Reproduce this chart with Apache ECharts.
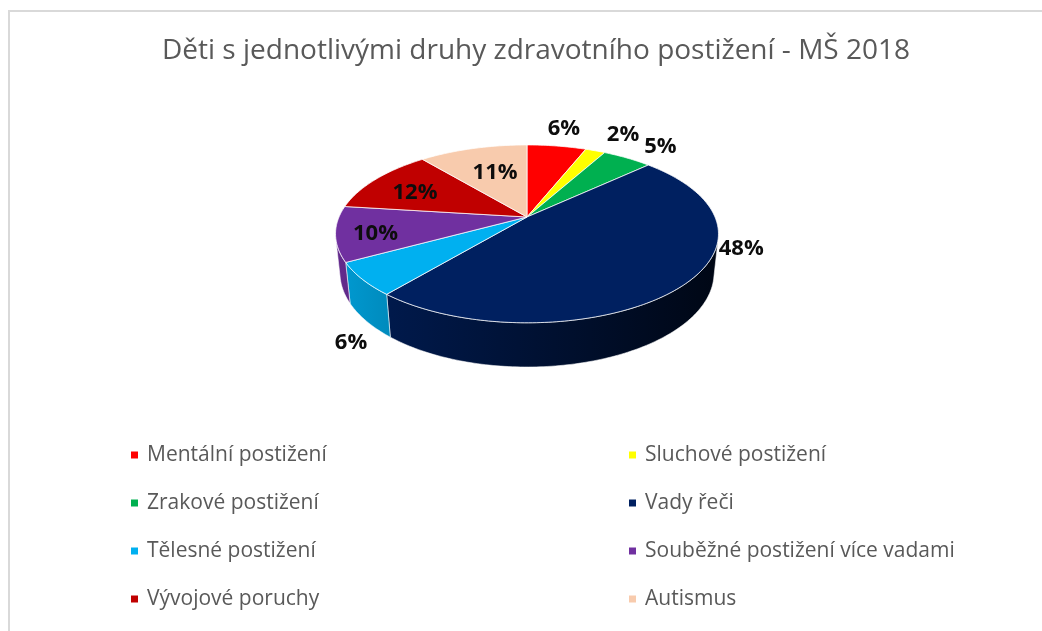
<!DOCTYPE html>
<html>
<head>
<meta charset="utf-8">
<title>Děti s jednotlivými druhy zdravotního postižení - MŠ 2018</title>
<script src="https://cdn.jsdelivr.net/npm/echarts@6/dist/echarts.min.js"></script>
<style>
  html, body { margin: 0; padding: 0; background: #fff; }
  #chart { width: 1042px; height: 631px; }
</style>
</head>
<body>
<div id="chart"></div>
<script>
const titleText = 'Děti s jednotlivými druhy zdravotního postižení - MŠ 2018'
const categories = [
  'Mentální postižení',
  'Sluchové postižení',
  'Zrakové postižení',
  'Vady řeči',
  'Tělesné postižení',
  'Souběžné postižení více vadami',
  'Vývojové poruchy',
  'Autismus'
]
const shares = [6, 2, 5, 48, 6, 10, 12, 11] // %
const colors = ['#FF0000', '#FFFF00', '#00B050', '#002060', '#00B0F0', '#7030A0', '#C00000', '#F8CBAD']

// 3D pie projection (camera tilted ~27deg, with perspective)
const CX = 527
const CY = 217
const F = 882.6
const R = 0.213
const H = 0.05
const sinE = 0.456
const cosE = 0.89
const visFrom = Math.acos(-R / cosE) * 180 / Math.PI
const visTo = 360 - visFrom

// label placement: [radius factor, angle shift, depth fraction]
const labelLayout = [
  [1.3, 0, 0], [1.33, 2.8, 0], [1.28, 3.2, 0], [1.12, -25, 0],
  [1.15, -5.4, 1], [0.8, -3.2, 0], [0.7, -3, 0], [0.6, 1.5, 0]
]

function proj(deg, rho, zf) {
  const t = deg * Math.PI / 180
  const X = rho * R * Math.sin(t)
  const Y = -rho * R * Math.cos(t)
  const Z = -zf * H
  const yc = Z * cosE - Y * sinE
  const zc = 1 - Y * cosE - Z * sinE
  return [CX + F * X / zc, CY - F * yc / zc]
}

function arc(a, b, zf) {
  const pts = []
  const n = Math.max(2, Math.ceil(Math.abs(b - a)))
  for (let k = 0; k <= n; k++) {
    pts.push(proj(a + (b - a) * k / n, 1, zf))
  }
  return pts
}

function shade(hex, f) {
  const c = parseInt(hex.slice(1), 16)
  const r = Math.round(((c >> 16) & 255) * f)
  const g = Math.round(((c >> 8) & 255) * f)
  const b = Math.round((c & 255) * f)
  return 'rgb(' + r + ',' + g + ',' + b + ')'
}

function renderSlice(params, api) {
  const idx = params.seriesIndex
  const a0 = api.value(0) * 3.6
  const a1 = api.value(1) * 3.6
  const pct = api.value(2)
  const color = colors[idx]
  const children = []

  // outer wall (only the part facing the viewer)
  const s = Math.max(a0, visFrom)
  const e = Math.min(a1, visTo)
  if (s < e) {
    const pts = arc(s, e, 0).concat(arc(e, s, 1))
    children.push({
      type: 'polygon',
      z2: 1,
      shape: { points: pts },
      style: {
        fill: new echarts.graphic.LinearGradient(336, 0, 717, 0, [
          { offset: 0, color: shade(color, 0.88) },
          { offset: 1, color: shade(color, 0.22) }
        ], true),
        stroke: 'rgba(255,255,255,0.55)',
        lineWidth: 1
      }
    })
  }

  // top face
  const top = [proj(0, 0, 0)].concat(arc(a0, a1, 0))
  children.push({
    type: 'polygon',
    z2: 5,
    shape: { points: top },
    style: { fill: color, stroke: 'rgba(255,255,255,0.75)', lineWidth: 1 }
  })

  // data label
  const lay = labelLayout[idx]
  const p = proj((a0 + a1) / 2 + lay[1], lay[0], lay[2])
  children.push({
    type: 'text',
    z2: 10,
    style: {
      text: pct + '%',
      x: p[0],
      y: p[1],
      align: 'center',
      verticalAlign: 'middle',
      font: 'bold 22px "Open Sans"',
      fill: '#0d0d0d'
    }
  })
  return { type: 'group', children: children }
}

let acc = 0
const series = categories.map((name, i) => {
  const start = acc
  acc += shares[i]
  return {
    type: 'custom',
    name: name,
    coordinateSystem: 'none',
    itemStyle: { color: colors[i] },
    data: [[start, acc, shares[i]]],
    renderItem: renderSlice,
    animation: false,
    silent: true
  }
})

const legendBase = {
  orient: 'vertical',
  top: 438,
  icon: 'rect',
  itemWidth: 7,
  itemHeight: 7,
  itemGap: 24,
  selectedMode: false,
  textStyle: {
    fontFamily: 'Open Sans',
    fontSize: 21,
    color: '#595959',
    lineHeight: 24,
    padding: [0, 0, 0, 4]
  }
}

const chart = echarts.init(document.getElementById('chart'), null, { renderer: 'canvas' })
chart.setOption({
  backgroundColor: '#fff',
  animation: false,
  title: {
    text: titleText,
    left: 531,
    top: 32,
    textAlign: 'center',
    textStyle: {
      fontFamily: 'Open Sans',
      fontWeight: 'normal',
      fontSize: 28,
      color: '#595959'
    }
  },
  graphic: [{
    type: 'rect',
    shape: { x: 9, y: 11, width: 1100, height: 700 },
    style: { fill: 'none', stroke: '#d9d9d9', lineWidth: 2 },
    silent: true
  }],
  legend: [
    Object.assign({}, legendBase, { left: 126, data: categories.filter((c, i) => i % 2 === 0) }),
    Object.assign({}, legendBase, { left: 624, data: categories.filter((c, i) => i % 2 === 1) })
  ],
  series: series
})
</script>
</body>
</html>
